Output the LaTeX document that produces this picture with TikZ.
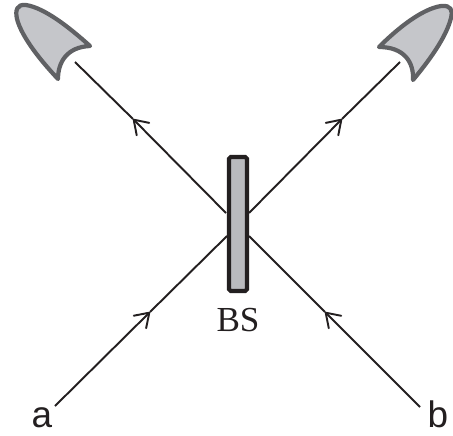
\documentclass[tikz,border=0pt]{standalone}
\usepackage{fontspec}
\usepackage{xcolor}
\usepackage{tikz}
\usetikzlibrary{arrows.meta,positioning}
\setmainfont{Liberation Serif}
\newfontfamily\portfont{Liberation Sans}
\definecolor{clrInk}{RGB}{35,31,32}
\definecolor{clrDet}{RGB}{96,97,100}
\definecolor{bgDet}{RGB}{197,198,202}
\definecolor{bgBS}{RGB}{185,186,190}
\tikzset{
  detector/.style={draw=clrDet,fill=bgDet,line width=2.4pt,line join=round},
  splitter/.style={rectangle,rounded corners=1pt,draw=clrInk,fill=bgBS,line width=2.4pt,
    minimum width=18*0.02cm,minimum height=134*0.02cm,inner sep=0pt},
  ray/.style={-{Straight Barb[length=7.5pt,width=10pt,line width=1.1pt,round]},line width=1.1pt,color=clrInk},
  beam/.style={line width=1.1pt,color=clrInk},
  port/.style={font=\fontsize{21}{21}\portfont,text=clrInk,inner sep=0pt,anchor=base},
  tag/.style={font=\fontsize{20}{20}\selectfont,text=clrInk,inner sep=0pt,anchor=base}
}
\begin{document}
\begin{tikzpicture}[x=0.02cm,y=-0.02cm]
  \useasboundingbox (0,0) rectangle (453,436);
  \draw[detector] (90,46) .. controls (70,28) and (45,8) .. (26,5)
    .. controls (17,4) and (15,10) .. (17,19)
    .. controls (22,38) and (42,62) .. (58,79)
    .. controls (58,62) and (67,47) .. (90,46) -- cycle;
  \draw[detector] (379,47) .. controls (398,28) and (422,9) .. (441,6)
    .. controls (451,5) and (453,10) .. (451,18)
    .. controls (446,38) and (428,62) .. (413,80)
    .. controls (414,62) and (404,47) .. (379,47) -- cycle;
  \node[splitter] (bs) at (238,224) {};
  \node[tag] (bslabel) at (238,331) {BS};
  \node[port] (a) at (42,427) {a};
  \node[port] (b) at (438,427) {b};
  \coordinate (ainp) at (55,406);
  \coordinate (atip) at (150,312);
  \coordinate (ahit) at (227,236);
  \coordinate (binp) at (420,407);
  \coordinate (btip) at (325,312);
  \coordinate (bhit) at (249,236);
  \coordinate (lout) at (226,213);
  \coordinate (ltip) at (133,119);
  \coordinate (lend) at (75,62);
  \coordinate (rout) at (249,213);
  \coordinate (rtip) at (342,119);
  \coordinate (rend) at (400,62);
  \draw[ray] (ainp) -- (atip);
  \draw[beam] (atip) -- (ahit);
  \draw[ray] (binp) -- (btip);
  \draw[beam] (btip) -- (bhit);
  \draw[ray] (lout) -- (ltip);
  \draw[beam] (ltip) -- (lend);
  \draw[ray] (rout) -- (rtip);
  \draw[beam] (rtip) -- (rend);
\end{tikzpicture}
\end{document}
